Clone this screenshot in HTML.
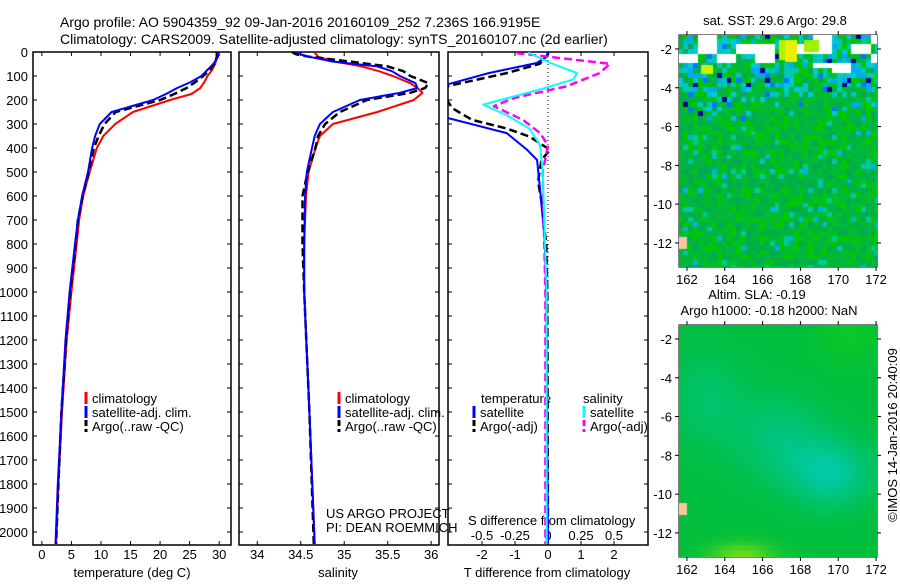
<!DOCTYPE html>
<html><head><meta charset="utf-8"><style>
body{margin:0;background:#fff;}
svg text{font-family:"Liberation Sans",sans-serif;fill:#000;}
</style></head><body>
<svg id="fig" width="900" height="580" xmlns="http://www.w3.org/2000/svg">
<defs>
<clipPath id="c1"><rect x="33" y="52" width="198" height="493"/></clipPath>
<clipPath id="c2"><rect x="239" y="52" width="200" height="493"/></clipPath>
<clipPath id="c3"><rect x="448" y="52" width="200" height="493"/></clipPath>
</defs>
<text x="60" y="27" font-size="14">Argo profile: AO 5904359_92 09-Jan-2016 20160109_252 7.236S 166.9195E</text>
<text x="60" y="44" font-size="14">Climatology: CARS2009. Satellite-adjusted climatology: synTS_20160107.nc (2d earlier)</text>
<g id="axes"></g>
<g id="marks"></g>
<g id="maps"></g>
<text transform="translate(897,435) rotate(-90)" text-anchor="middle" font-size="13">©IMOS 14-Jan-2016 20:40:09</text>
</svg>
<canvas id="m1" width="198" height="232" style="position:absolute;left:679px;top:35px"></canvas>
<canvas id="m2" width="198" height="232" style="position:absolute;left:679px;top:325px"></canvas>
<script>
// ---- data ----
const tDepth=[0,20,50,75,100,125,150,175,200,250,300,350,400,500,600,700,800,1000,1200,1500,1800,2050];
const tClim=[29.7,29.7,29.3,28.8,28,27.5,26.8,25.3,21.7,15.4,12.4,10.4,9.3,8.1,7,6.3,5.9,5,4.2,3.4,2.8,2.4];
const tSat=[29.8,29.8,29,28,27,25.2,22.9,21,18.8,11.8,9.8,9,8.5,7.8,6.8,6.1,5.6,4.7,4,3.3,2.7,2.3];
const tArgo=[29.6,29.6,29.2,28.4,27.3,26,24.5,22.4,20,12.5,10.6,9.6,8.8,7.9,6.9,6.1,5.7,4.8,4.1,3.3,2.8,2.4];
const sDepth=[0,10,20,40,60,80,100,130,150,170,200,250,300,350,400,500,600,800,1000,1500,2050];
const sClim=[34.65,34.68,34.7,34.9,35.2,35.4,35.56,35.76,35.84,35.9,35.8,35.38,34.87,34.72,34.67,34.59,34.56,34.54,34.54,34.6,34.66];
const sSat=[34.45,34.5,34.6,34.87,35.38,35.55,35.64,35.82,35.84,35.64,35.18,34.87,34.72,34.66,34.63,34.57,34.55,34.54,34.54,34.6,34.66];
const sArgo=[34.4,34.45,34.6,35.07,35.5,35.68,35.76,35.97,35.93,35.76,35.26,34.95,34.78,34.7,34.67,34.58,34.52,34.52,34.54,34.6,34.65];
const dtSatDepth=[0,20,46,88,137,200,273,338,408,450,575,783,1000,2050];
const dtSat=[0,-0.05,-0.34,-1.8,-3.1,-4,-3.1,-1.25,-0.63,-0.33,-0.24,-0.1,-0.05,0];
const dtArgoDepth=[0,10,49,88,150,234,283,318,353,408,450,540,637,692,800,1000,2050];
const dtArgo=[0,0,-0.25,-1.25,-3.3,-2.9,-2.3,-1.27,-0.55,0.06,-0.2,-0.3,-0.18,-0.15,-0.05,-0.02,0];
const dsSatDepth=[0,5,46,88,115,156,219,264,319,389,500,1000,2050];
const dsSat=[-0.14,-0.14,0.02,0.22,0.19,-0.06,-0.49,-0.31,-0.14,-0.06,-0.04,-0.01,-0.01];
const dsArgoDepth=[0,5,49,88,143,192,226,283,338,389,500,1000,2050];
const dsArgo=[-0.23,-0.23,0.47,0.39,0.14,-0.26,-0.41,-0.19,-0.06,0,-0.04,-0.02,-0.02];
const depthTicks=[0,100,200,300,400,500,600,700,800,900,1000,1100,1200,1300,1400,1500,1600,1700,1800,1900,2000];
const tTicks=[0,5,10,15,20,25,30];
const sTicks=[34,34.5,35,35.5,36];
const dtTicks=[-2,-1,0,1,2];
const dsTicks=[-0.5,-0.25,0,0.25,0.5];
const dsTickLabels=["-0.5","-0.25","0","0.25","0.5"];
const lonTicks=[162,164,166,168,170,172];
const latTicks=[-2,-4,-6,-8,-10,-12];

const NS="http://www.w3.org/2000/svg";
const axes=document.getElementById('axes'),marks=document.getElementById('marks'),maps=document.getElementById('maps');
function mk(tag,attrs,parent){const e=document.createElementNS(NS,tag);for(const k in attrs)e.setAttribute(k,attrs[k]);parent.appendChild(e);return e;}
const yD=d=>52+d*493/2054;
function lin(d0,d1,r0,r1){return v=>r0+(v-d0)*(r1-r0)/(d1-d0);}
const xT=lin(-1.5,32,33,231), xS=lin(33.79,36.09,239,439), xDT=lin(-3.03,3.03,448,648), xDS=lin(-0.7575,0.7575,448,648);

function panel(x0,w,name){
  const r=mk('rect',{x:x0,y:52,width:w,height:493,fill:'none',stroke:'#000','stroke-width':1.5},axes);
  
  
  depthTicks.forEach(d=>{const y=yD(d);mk('line',{x1:x0,x2:x0+4,y1:y,y2:y,stroke:'#000'},axes);mk('line',{x1:x0+w-4,x2:x0+w,y1:y,y2:y,stroke:'#000'},axes);});
}
panel(33,198,'temperature-panel');panel(239,200,'salinity-panel');panel(448,200,'difference-panel');
depthTicks.forEach(d=>{const t=mk('text',{x:28,y:yD(d)+5,'text-anchor':'end','font-size':13},axes);t.textContent=d;
  });
function xticks(vals,labels,fx,ytext,showTop){vals.forEach((v,i)=>{const x=fx(v);
  mk('line',{x1:x,x2:x,y1:545,y2:541,stroke:'#000'},axes);if(showTop)mk('line',{x1:x,x2:x,y1:52,y2:56,stroke:'#000'},axes);
  const t=mk('text',{x:x,y:ytext,'text-anchor':'middle','font-size':13},axes);t.textContent=labels[i];
  });}
xticks(tTicks,tTicks,xT,559,true);xticks(sTicks,sTicks,xS,559,true);xticks(dtTicks,dtTicks,xDT,559,true);
dsTicks.forEach((v,i)=>{const t=mk('text',{x:xDS(v),y:540,'text-anchor':'middle','font-size':13},axes);t.textContent=dsTickLabels[i];
  });
function lbl(x,y,s,name,anchor){const t=mk('text',{x:x,y:y,'font-size':13,'text-anchor':anchor||'start'},axes);t.textContent=s;
  }
lbl(132,577,'temperature (deg C)','x-axis-title-temperature','middle');
lbl(338,577,'salinity','x-axis-title-salinity','middle');
lbl(547,577,'T difference from climatology','x-axis-title-t-diff','middle');
lbl(468,525,'S difference from climatology','s-diff-axis-title');
lbl(326,518,'US ARGO PROJECT','project-label');
lbl(326,532,'PI: DEAN ROEMMICH','pi-label');
mk('line',{x1:548,x2:548,y1:52,y2:545,stroke:'#000','stroke-dasharray':'1,3'},axes);

function series(depths,vals,fx,color,dash,clip,name){
  const pts=depths.map((d,i)=>fx(vals[i]).toFixed(1)+','+yD(d).toFixed(1)).join(' ');
  const p=mk('polyline',{points:pts,fill:'none',stroke:color,'stroke-width':dash?2.5:2,'stroke-linejoin':'round','clip-path':'url(#'+clip+')'},marks);
  if(dash)p.setAttribute('stroke-dasharray','8,4');
  
  
}
series(tDepth,tClim,xT,'#f00',false,'c1','temp-climatology-line');
series(tDepth,tArgo,xT,'#000',true,'c1','temp-argo-line');
series(tDepth,tSat,xT,'#00f',false,'c1','temp-satellite-line');
series(sDepth,sClim,xS,'#f00',false,'c2','sal-climatology-line');
series(sDepth,sArgo,xS,'#000',true,'c2','sal-argo-line');
series(sDepth,sSat,xS,'#00f',false,'c2','sal-satellite-line');
series(dtArgoDepth,dtArgo,xDT,'#000',true,'c3','tdiff-argo-line');
series(dtSatDepth,dtSat,xDT,'#00f',false,'c3','tdiff-satellite-line');
series(dsArgoDepth,dsArgo,xDS,'#f0f',true,'c3','sdiff-argo-line');
series(dsSatDepth,dsSat,xDS,'#0ff',false,'c3','sdiff-satellite-line');

function legend(x,y,color,dash,text,name){
  const l=mk('line',{x1:x,x2:x,y1:y-11,y2:y+1,stroke:color,'stroke-width':3},axes);if(dash)l.setAttribute('stroke-dasharray','6,3');
  const t=mk('text',{x:x+6,y:y,'font-size':13},axes);t.textContent=text;
  }
legend(86,403,'#f00',0,'climatology','legend-climatology');legend(86,417,'#00f',0,'satellite-adj. clim.','legend-satellite');legend(86,431,'#000',1,'Argo(..raw -QC)','legend-argo');
legend(339,403,'#f00',0,'climatology','legend2-climatology');legend(339,417,'#00f',0,'satellite-adj. clim.','legend2-satellite');legend(339,431,'#000',1,'Argo(..raw -QC)','legend2-argo');
lbl(481,403,'temperature','legend-temperature-heading');lbl(583,403,'salinity','legend-salinity-heading');
legend(474,417,'#00f',0,'satellite','legend-t-satellite');legend(474,431,'#000',1,'Argo(-adj)','legend-t-argo');
legend(584,417,'#0ff',0,'satellite','legend-s-satellite');legend(584,431,'#f0f',1,'Argo(-adj)','legend-s-argo');

// ---- maps ----
const xL=lin(161.58,172.05,679,877);
function mapFrame(top,bot,name,titles){
  const r=mk('rect',{x:679,y:top,width:198,height:bot-top,fill:'none',stroke:'#000'},maps);
  
  const yL=lin(-1.28,-13.24,top,bot);
  lonTicks.forEach(v=>{const x=xL(v);mk('line',{x1:x,x2:x,y1:bot,y2:bot+4,stroke:'#000'},maps);mk('line',{x1:x,x2:x,y1:top,y2:top-4,stroke:'#000'},maps);
    const t=mk('text',{x:x,y:bot+17,'text-anchor':'middle','font-size':13},maps);t.textContent=v;});
  latTicks.forEach(v=>{const y=yL(v);mk('line',{x1:675,x2:679,y1:y,y2:y,stroke:'#000'},maps);mk('line',{x1:877,x2:881,y1:y,y2:y,stroke:'#000'},maps);
    const t=mk('text',{x:672,y:y+5,'text-anchor':'end','font-size':13},maps);t.textContent=v;});
  titles.forEach((s,i)=>{const t=mk('text',{x:s[1],y:s[2],'text-anchor':'middle','font-size':13},maps);t.textContent=s[0];});
  const c=mk('circle',{cx:xL(166.92),cy:yL(-7.24),r:5.5,fill:'none',stroke:'#000','stroke-width':1.2},maps);
  
}
mapFrame(35,267,'sst-map-frame',[['sat. SST: 29.6 Argo: 29.8',775,25]]);
mapFrame(325,557,'sla-map-frame',[['Altim. SLA: -0.19',757,299],['Argo h1000: -0.18 h2000: NaN',769,315]]);

function h(i,j,s){let n=(i*374761393+j*668265263+s*982451653)|0;n=(n^(n>>>13))*1274126177|0;return ((n^(n>>>16))>>>0)/4294967296;}
(function(){const ctx=document.getElementById('m1').getContext('2d');const cs=4.8;
  for(let j=0;j*cs<232;j++)for(let i=0;i*cs<198;i++){
    const lat=-1.28-j*cs/19.4, r=h(i,j,1), r2=h(i,j,2);let col;
    const north=lat>-6.2?Math.min(1,(lat+6.2)/3):0;
    const wp=lat>-3.3?0.12+0.12*(lat+3.3):(lat>-5?0.03:0);
    if(h(i>>2,j>>1,3)<wp){col='#fff';}
    else if(r<north*0.55){const r3=h(i,j,4);col=r3<0.35?'#00c8b4':r3<0.6?'#00c8dc':r3<0.8?'#00aaf0':r3<0.93?'#0078ff':'#000096';}
    else if(r<0.06){col='#00c8a0';}else if(r<0.08){col='#00b4e6';}
    else col=['#00b43c','#00c800','#00aa50','#00be28','#00b446'][Math.floor(r2*5)];
    ctx.fillStyle=col;ctx.fillRect(Math.floor(i*cs),Math.floor(j*cs),Math.ceil(cs)+1,Math.ceil(cs)+1);}
  ctx.fillStyle='#e6f000';ctx.fillRect(106,5,12,22);ctx.fillStyle='#b4f000';ctx.fillRect(100,5,6,20);ctx.fillStyle='#a0f000';ctx.fillRect(125,5,15,12);ctx.fillStyle='#c8f000';ctx.fillRect(22,30,12,9);
  ctx.fillStyle='#f5c8a0';ctx.fillRect(0,202,8,12);
})();
(function(){const ctx=document.getElementById('m2').getContext('2d');const cs=4.8;
  for(let j=0;j*cs<232;j++)for(let i=0;i*cs<198;i++){
    const lon=161.58+i*cs/18.9, lat=-1.28-j*cs/19.4;
    let t=Math.exp(-((lon-169.5)**2/5+(lat+8.8)**2/3))*0.75+Math.exp(-((lon-166.8)**2/6+(lat+7)**2/5))*0.45+Math.exp(-((lon-163)**2/4+(lat+5)**2/6))*0.35;
    t=Math.min(1,t);let y=Math.exp(-((lon-164.8)**2/3+(lat+13.2)**2/0.6))*0.8;let g=Math.exp(-((lon-170.5)**2/3+(lat+1.5)**2/3))*0.5;
    const R=Math.round(0+y*140+g*20), G=Math.round(190+t*15+y*40+g*20), B=Math.round(60+t*130-y*50-g*40);
    ctx.fillStyle=`rgb(${R},${Math.min(235,G)},${Math.max(0,B)})`;ctx.fillRect(Math.floor(i*cs),Math.floor(j*cs),Math.ceil(cs)+1,Math.ceil(cs)+1);}
  ctx.fillStyle='#f5c8a0';ctx.fillRect(0,178,8,12);
})();
</script>
</body></html>
